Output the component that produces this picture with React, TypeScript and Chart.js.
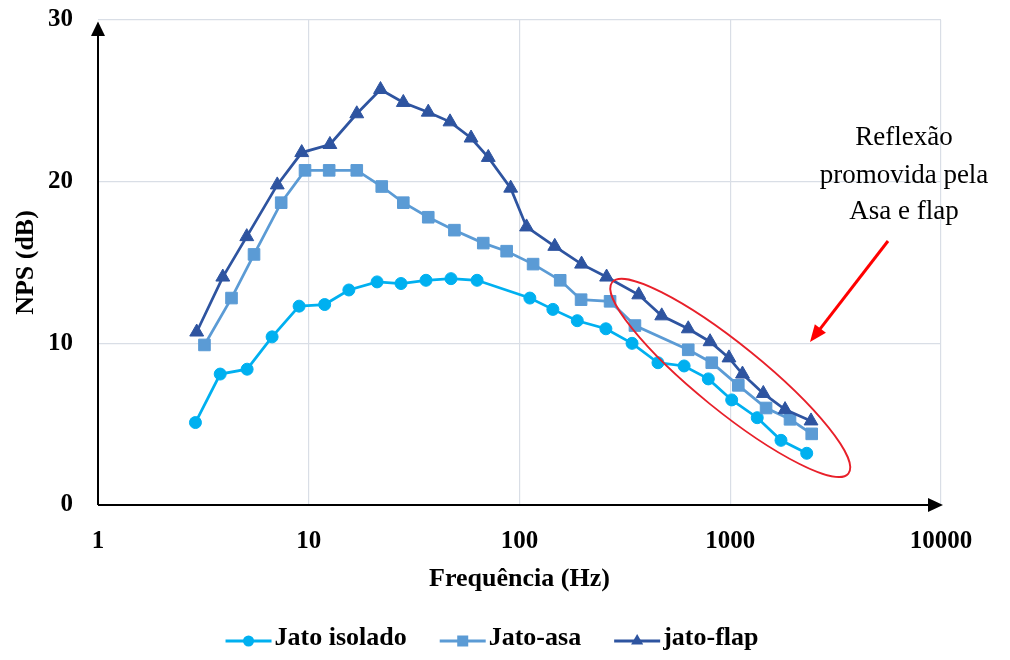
import { useEffect, useRef } from 'react';
import { Chart, registerables } from 'chart.js';

Chart.register(...registerables);

// Axis ticks
const xTickValues = [1, 10, 100, 1000, 10000];
const yTickValues = [0, 10, 20, 30];

// Series labels
const seriesLabels = ['Jato isolado', 'Jato-asa', 'jato-flap'];

// Jato isolado: frequency (Hz) and NPS (dB)
const isoladoFreq = [2.9, 3.8, 5.1, 6.7, 9.0, 11.9, 15.5, 21.1, 27.4, 36.0, 47.3, 62.9, 112, 144, 188, 257, 342, 454, 604, 787, 1016, 1343, 1741, 2306];
const isoladoNps = [5.1, 8.1, 8.4, 10.4, 12.3, 12.4, 13.3, 13.8, 13.7, 13.9, 14.0, 13.9, 12.8, 12.1, 11.4, 10.9, 10.0, 8.8, 8.6, 7.8, 6.5, 5.4, 4.0, 3.2];

// Jato-asa
const asaFreq = [3.2, 4.3, 5.5, 7.4, 9.6, 12.5, 16.9, 22.2, 28.1, 36.9, 49.1, 67.3, 86.9, 116, 156, 196, 269, 353, 632, 817, 1092, 1479, 1921, 2435];
const asaNps = [9.9, 12.8, 15.5, 18.7, 20.7, 20.7, 20.7, 19.7, 18.7, 17.8, 17.0, 16.2, 15.7, 14.9, 13.9, 12.7, 12.6, 11.1, 9.6, 8.8, 7.4, 6.0, 5.3, 4.4];

// jato-flap
const flapFreq = [2.94, 3.91, 5.08, 7.09, 9.26, 12.6, 16.9, 21.9, 28.1, 36.9, 46.8, 58.9, 71.1, 90.8, 108, 147, 197, 259, 368, 473, 632, 802, 986, 1143, 1435, 1820, 2417];
const flapNps = [10.7, 14.1, 16.6, 19.8, 21.8, 22.3, 24.2, 25.7, 24.9, 24.3, 23.7, 22.7, 21.5, 19.6, 17.2, 16.0, 14.9, 14.1, 13.0, 11.7, 10.9, 10.1, 9.1, 8.1, 6.9, 5.9, 5.2];

// Highlighted region (centre in data units) and its note
const highlightCenter = { x: 1000, y: 7.86 };
const noteLines = ['Reflexão', 'promovida pela', 'Asa e flap'];

const SERIF = "'Liberation Serif', 'Times New Roman', serif";
const colors = ['#00B0F0', '#5B9BD5', '#2E54A0'];
const markerStyles = ['circle', 'rect', 'triangle'];
const markerRadius = [6, 8.2, 8];

function toPoints(xs: number[], ys: number[]) {
  return xs.map((x, i) => ({ x, y: ys[i] }));
}

function drawMarker(ctx: CanvasRenderingContext2D, style: string, x: number, y: number, r: number) {
  ctx.beginPath();
  if (style === 'circle') {
    ctx.arc(x, y, r, 0, Math.PI * 2);
  } else if (style === 'rect') {
    ctx.rect(x - r, y - r, 2 * r, 2 * r);
  } else {
    for (let k = 0; k < 3; k++) {
      const a = (k * 2 * Math.PI) / 3;
      const px = x + Math.sin(a) * r;
      const py = y - Math.cos(a) * r;
      if (k === 0) ctx.moveTo(px, py);
      else ctx.lineTo(px, py);
    }
    ctx.closePath();
  }
  ctx.fill();
}

// Black axis lines ending in arrowheads
const axisArrows = {
  id: 'axisArrows',
  beforeDatasetsDraw(chart: any) {
    const { ctx, chartArea } = chart;
    const { left, top, right, bottom } = chartArea;
    ctx.save();
    ctx.strokeStyle = '#000';
    ctx.fillStyle = '#000';
    ctx.lineWidth = 2;
    ctx.beginPath();
    ctx.moveTo(left, bottom);
    ctx.lineTo(left, top + 12);
    ctx.moveTo(left, bottom);
    ctx.lineTo(right - 10, bottom);
    ctx.stroke();
    // vertical arrowhead
    ctx.beginPath();
    ctx.moveTo(left, top + 1.5);
    ctx.lineTo(left - 7, top + 16);
    ctx.lineTo(left + 7, top + 16);
    ctx.closePath();
    ctx.fill();
    // horizontal arrowhead
    ctx.beginPath();
    ctx.moveTo(right + 2, bottom);
    ctx.lineTo(right - 13, bottom - 7);
    ctx.lineTo(right - 13, bottom + 7);
    ctx.closePath();
    ctx.fill();
    ctx.restore();
  },
};

// Legend row, highlight ellipse, pointer arrow and note
const extras = {
  id: 'extras',
  afterDraw(chart: any) {
    const { ctx } = chart;
    const xs = chart.scales.x;
    const ys = chart.scales.y;
    ctx.save();

    // legend
    ctx.font = `bold 26px ${SERIF}`;
    ctx.textBaseline = 'middle';
    ctx.textAlign = 'left';
    const lineLen = 46;
    const textGap = 3;
    const itemGap = 33;
    const widths = seriesLabels.map((l) => ctx.measureText(l).width);
    const total = widths.reduce((s, w) => s + lineLen + textGap + w, 0) + itemGap * (seriesLabels.length - 1);
    let lx = 492 - total / 2;
    const ly = 641;
    seriesLabels.forEach((label, i) => {
      ctx.strokeStyle = colors[i];
      ctx.fillStyle = colors[i];
      ctx.lineWidth = 3;
      ctx.beginPath();
      ctx.moveTo(lx, ly);
      ctx.lineTo(lx + lineLen, ly);
      ctx.stroke();
      const mr = i === 0 ? 5.5 : i === 1 ? 5.5 : 7;
      drawMarker(ctx, markerStyles[i], lx + lineLen / 2, ly, mr);
      ctx.fillStyle = '#000';
      ctx.fillText(label, lx + lineLen + textGap, ly - 3);
      lx += lineLen + textGap + widths[i] + itemGap;
    });

    // highlight ellipse
    const cx = xs.getPixelForValue(highlightCenter.x);
    const cy = ys.getPixelForValue(highlightCenter.y);
    ctx.strokeStyle = '#E8202A';
    ctx.lineWidth = 1.8;
    ctx.beginPath();
    ctx.ellipse(cx, cy, 152, 33, (39 * Math.PI) / 180, 0, Math.PI * 2);
    ctx.stroke();

    // pointer arrow
    const x0 = 888, y0 = 241, x1 = 810, y1 = 342;
    const ang = Math.atan2(y1 - y0, x1 - x0);
    const headLen = 17, headHalf = 7;
    ctx.strokeStyle = '#FF0000';
    ctx.fillStyle = '#FF0000';
    ctx.lineWidth = 3;
    ctx.beginPath();
    ctx.moveTo(x0, y0);
    ctx.lineTo(x1 - Math.cos(ang) * (headLen - 2), y1 - Math.sin(ang) * (headLen - 2));
    ctx.stroke();
    ctx.beginPath();
    ctx.moveTo(x1, y1);
    ctx.lineTo(x1 - Math.cos(ang) * headLen - Math.sin(ang) * headHalf, y1 - Math.sin(ang) * headLen + Math.cos(ang) * headHalf);
    ctx.lineTo(x1 - Math.cos(ang) * headLen + Math.sin(ang) * headHalf, y1 - Math.sin(ang) * headLen - Math.cos(ang) * headHalf);
    ctx.closePath();
    ctx.fill();

    // note
    ctx.fillStyle = '#000';
    ctx.font = `27px ${SERIF}`;
    ctx.textAlign = 'center';
    ctx.textBaseline = 'alphabetic';
    const baselines = [145, 183, 219];
    noteLines.forEach((t, i) => ctx.fillText(t, 904, baselines[i]));

    ctx.restore();
  },
};

export default function App() {
  const canvasRef = useRef<HTMLCanvasElement | null>(null);

  useEffect(() => {
    const canvas = canvasRef.current;
    if (!canvas) return;
    const series = [
      { freq: isoladoFreq, nps: isoladoNps, order: 2 },
      { freq: asaFreq, nps: asaNps, order: 1 },
      { freq: flapFreq, nps: flapNps, order: 0 },
    ];
    const chart = new Chart(canvas, {
      type: 'line',
      data: {
        datasets: series.map((s, i) => ({
          label: seriesLabels[i],
          data: toPoints(s.freq, s.nps),
          order: s.order,
          borderColor: colors[i],
          backgroundColor: colors[i],
          borderWidth: 2.75,
          tension: 0,
          pointStyle: markerStyles[i] as any,
          pointRadius: markerRadius[i],
          pointBackgroundColor: colors[i],
          pointBorderColor: colors[i],
          pointBorderWidth: 1,
          fill: false,
        })),
      },
      options: {
        animation: false,
        responsive: false,
        devicePixelRatio: 1,
        layout: { padding: { left: 0, right: 69, top: 20, bottom: 65 } },
        plugins: {
          legend: { display: false },
          tooltip: { enabled: false },
        },
        scales: {
          x: {
            type: 'logarithmic',
            min: 1,
            max: 10000,
            afterBuildTicks: (s: any) => {
              s.ticks = xTickValues.map((v) => ({ value: v }));
            },
            afterFit: (s: any) => {
              s.height = 90;
            },
            grid: {
              color: (c: any) => (c.tick && c.tick.value === 1 ? 'rgba(0,0,0,0)' : '#D9DEE6'),
              lineWidth: 1.2,
              drawTicks: false,
            },
            border: { display: false },
            ticks: {
              autoSkip: false,
              maxRotation: 0,
              padding: 22,
              color: '#000',
              font: { family: SERIF, size: 25, weight: 'bold' },
              callback: (v: any) => String(v),
            },
            title: {
              display: true,
              text: 'Frequência (Hz)',
              color: '#000',
              font: { family: SERIF, size: 26, weight: 'bold' },
              padding: { top: 0, bottom: 0 },
            },
          },
          y: {
            type: 'linear',
            min: 0,
            max: 30,
            afterBuildTicks: (s: any) => {
              s.ticks = yTickValues.map((v) => ({ value: v }));
            },
            afterFit: (s: any) => {
              s.width = 98;
              s.paddingTop = 0;
              s.paddingBottom = 0;
            },
            grid: {
              color: (c: any) => (c.tick && c.tick.value === 0 ? 'rgba(0,0,0,0)' : '#D9DEE6'),
              lineWidth: 1.2,
              drawTicks: false,
            },
            border: { display: false },
            ticks: {
              padding: 25,
              color: '#000',
              font: { family: SERIF, size: 25, weight: 'bold' },
            },
            title: {
              display: true,
              text: 'NPS (dB)',
              color: '#000',
              font: { family: SERIF, size: 26, weight: 'bold' },
              padding: { top: 11, bottom: 0 },
            },
          },
        },
      } as any,
      plugins: [axisArrows, extras],
    });
    return () => chart.destroy();
  }, []);

  return (
    <div style={{ position: 'fixed', left: 0, top: 0, width: 1010, height: 660, background: '#fff' }}>
      <canvas ref={canvasRef} width={1010} height={660} style={{ display: 'block' }} />
    </div>
  );
}
